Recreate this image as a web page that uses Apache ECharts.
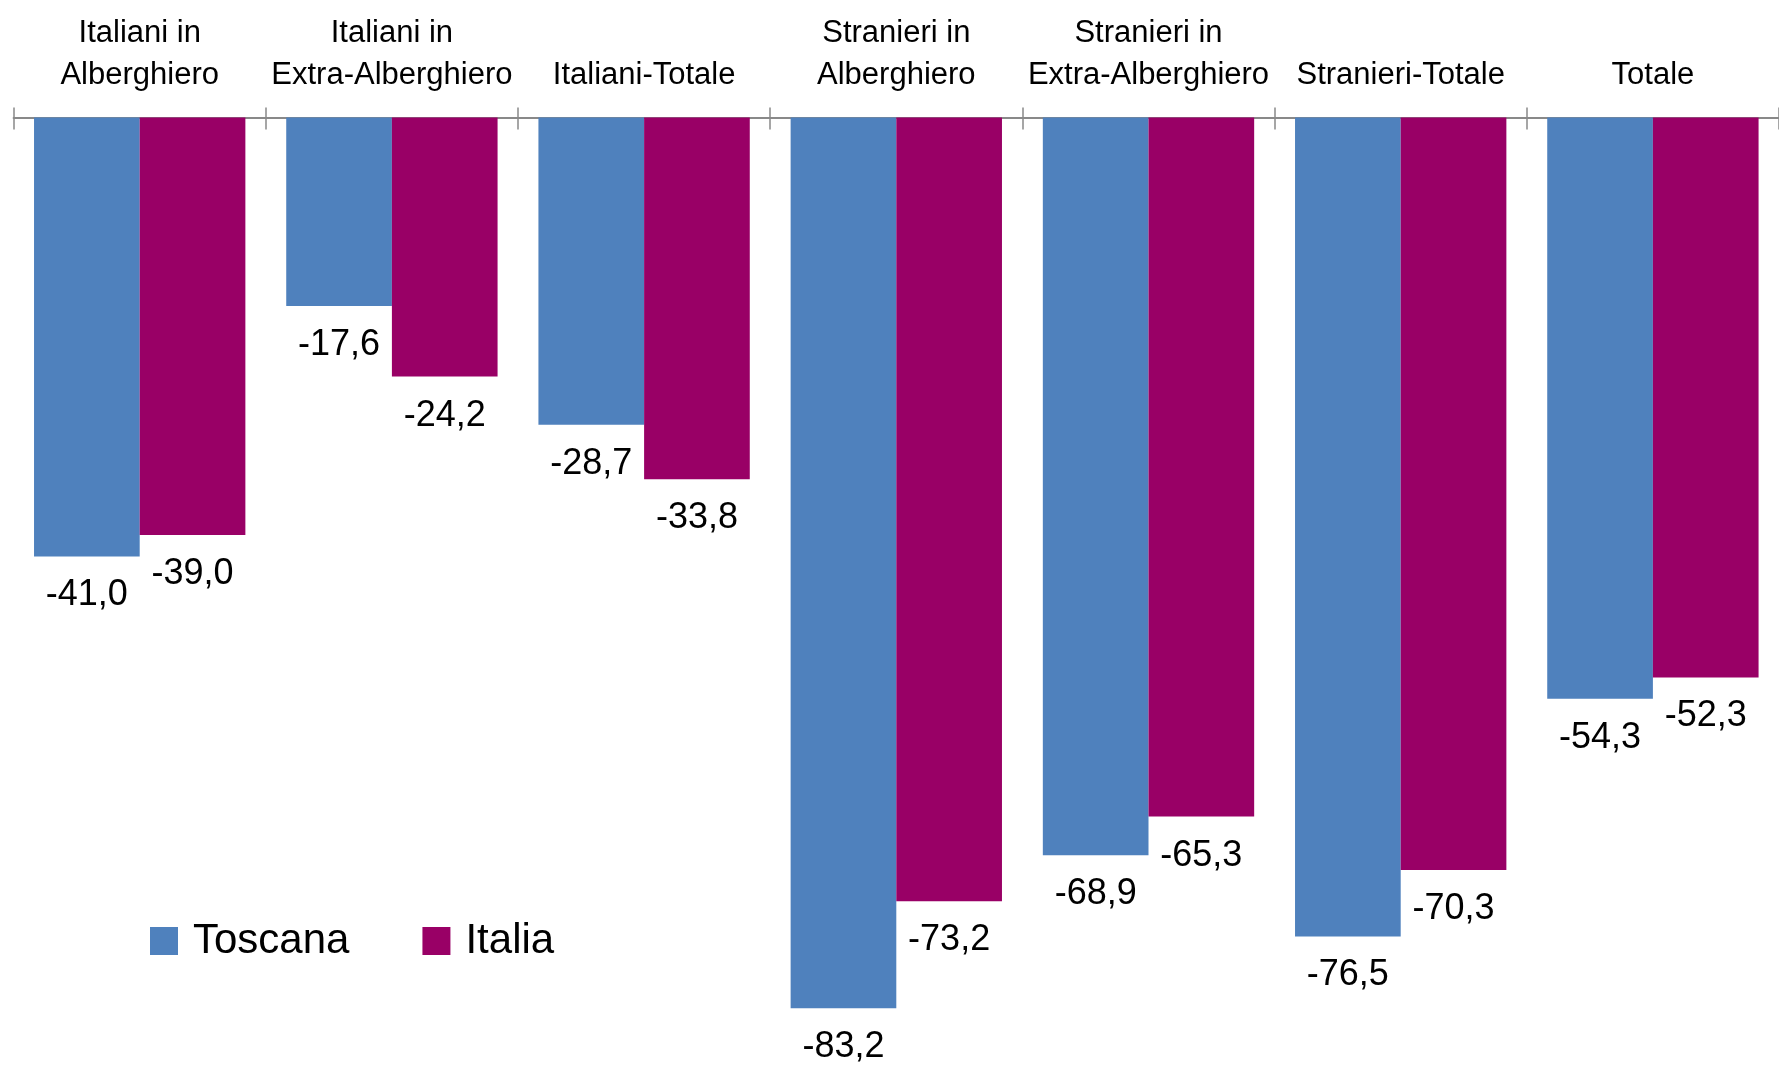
<!DOCTYPE html>
<html>
<head>
<meta charset="utf-8">
<script src="https://cdn.jsdelivr.net/npm/echarts@6/dist/echarts.min.js"></script>
<style>
html,body{margin:0;padding:0;background:#fff;}
#c{width:1779px;height:1067px;}
</style>
</head>
<body>
<div id="c"></div>
<script>
const categories = ['Italiani in\nAlberghiero','Italiani in\nExtra-Alberghiero','Italiani-Totale','Stranieri in\nAlberghiero','Stranieri in\nExtra-Alberghiero','Stranieri-Totale','Totale'];
const toscana = [-41.0, -17.6, -28.7, -83.2, -68.9, -76.5, -54.3];
const italia = [-39.0, -24.2, -33.8, -73.2, -65.3, -70.3, -52.3];
const seriesNames = ['Toscana', 'Italia'];

const FONT = '"Liberation Sans Narrow","Arial Narrow","Liberation Sans",Arial,sans-serif';
const fmt = p => p.value.toFixed(1).replace('.', ',');
const chart = echarts.init(document.getElementById('c'), null, {renderer:'canvas'});
const labelCfg = {show:true, position:'bottom', distance:21, formatter:fmt, color:'#000', fontFamily:FONT, fontSize:36};
chart.setOption({
  animation:false,
  backgroundColor:'#fff',
  grid:{left:13.6, top:117.5, width:1771, height:910, containLabel:false},
  legend:{
    left:150, top:913, padding:0, itemGap:73, itemWidth:28, itemHeight:28, icon:'rect',
    textStyle:{fontFamily:FONT, fontSize:42, color:'#000', lineHeight:56, padding:[0,0,0,10]},
    data:seriesNames
  },
  xAxis:[{
    type:'category', position:'top', data:categories,
    axisLine:{show:true, onZero:false, lineStyle:{color:'#898989', width:2}},
    axisTick:{show:true, inside:false, length:10, lineStyle:{color:'#898989', width:1.5}},
    axisLabel:{show:true, margin:21, fontFamily:FONT, fontSize:31, lineHeight:42, color:'#000', interval:0},
    splitLine:{show:false}
  },{
    type:'category', position:'top', data:categories, offset:0,
    axisLine:{show:false},
    axisTick:{show:true, inside:true, length:12, lineStyle:{color:'#898989', width:1.5}},
    axisLabel:{show:false},
    splitLine:{show:false}
  }],
  yAxis:{type:'value', min:-85, max:0, show:false, splitLine:{show:false}},
  series:[
    {name:seriesNames[0], type:'bar', data:toscana, xAxisIndex:0, barGap:'0%', barCategoryGap:'16.2%',
     itemStyle:{color:'#4F81BD'}, label:labelCfg},
    {name:seriesNames[1], type:'bar', data:italia, xAxisIndex:0, barGap:'0%', barCategoryGap:'16.2%',
     itemStyle:{color:'#990066'}, label:labelCfg}
  ]
});
</script>
</body>
</html>
